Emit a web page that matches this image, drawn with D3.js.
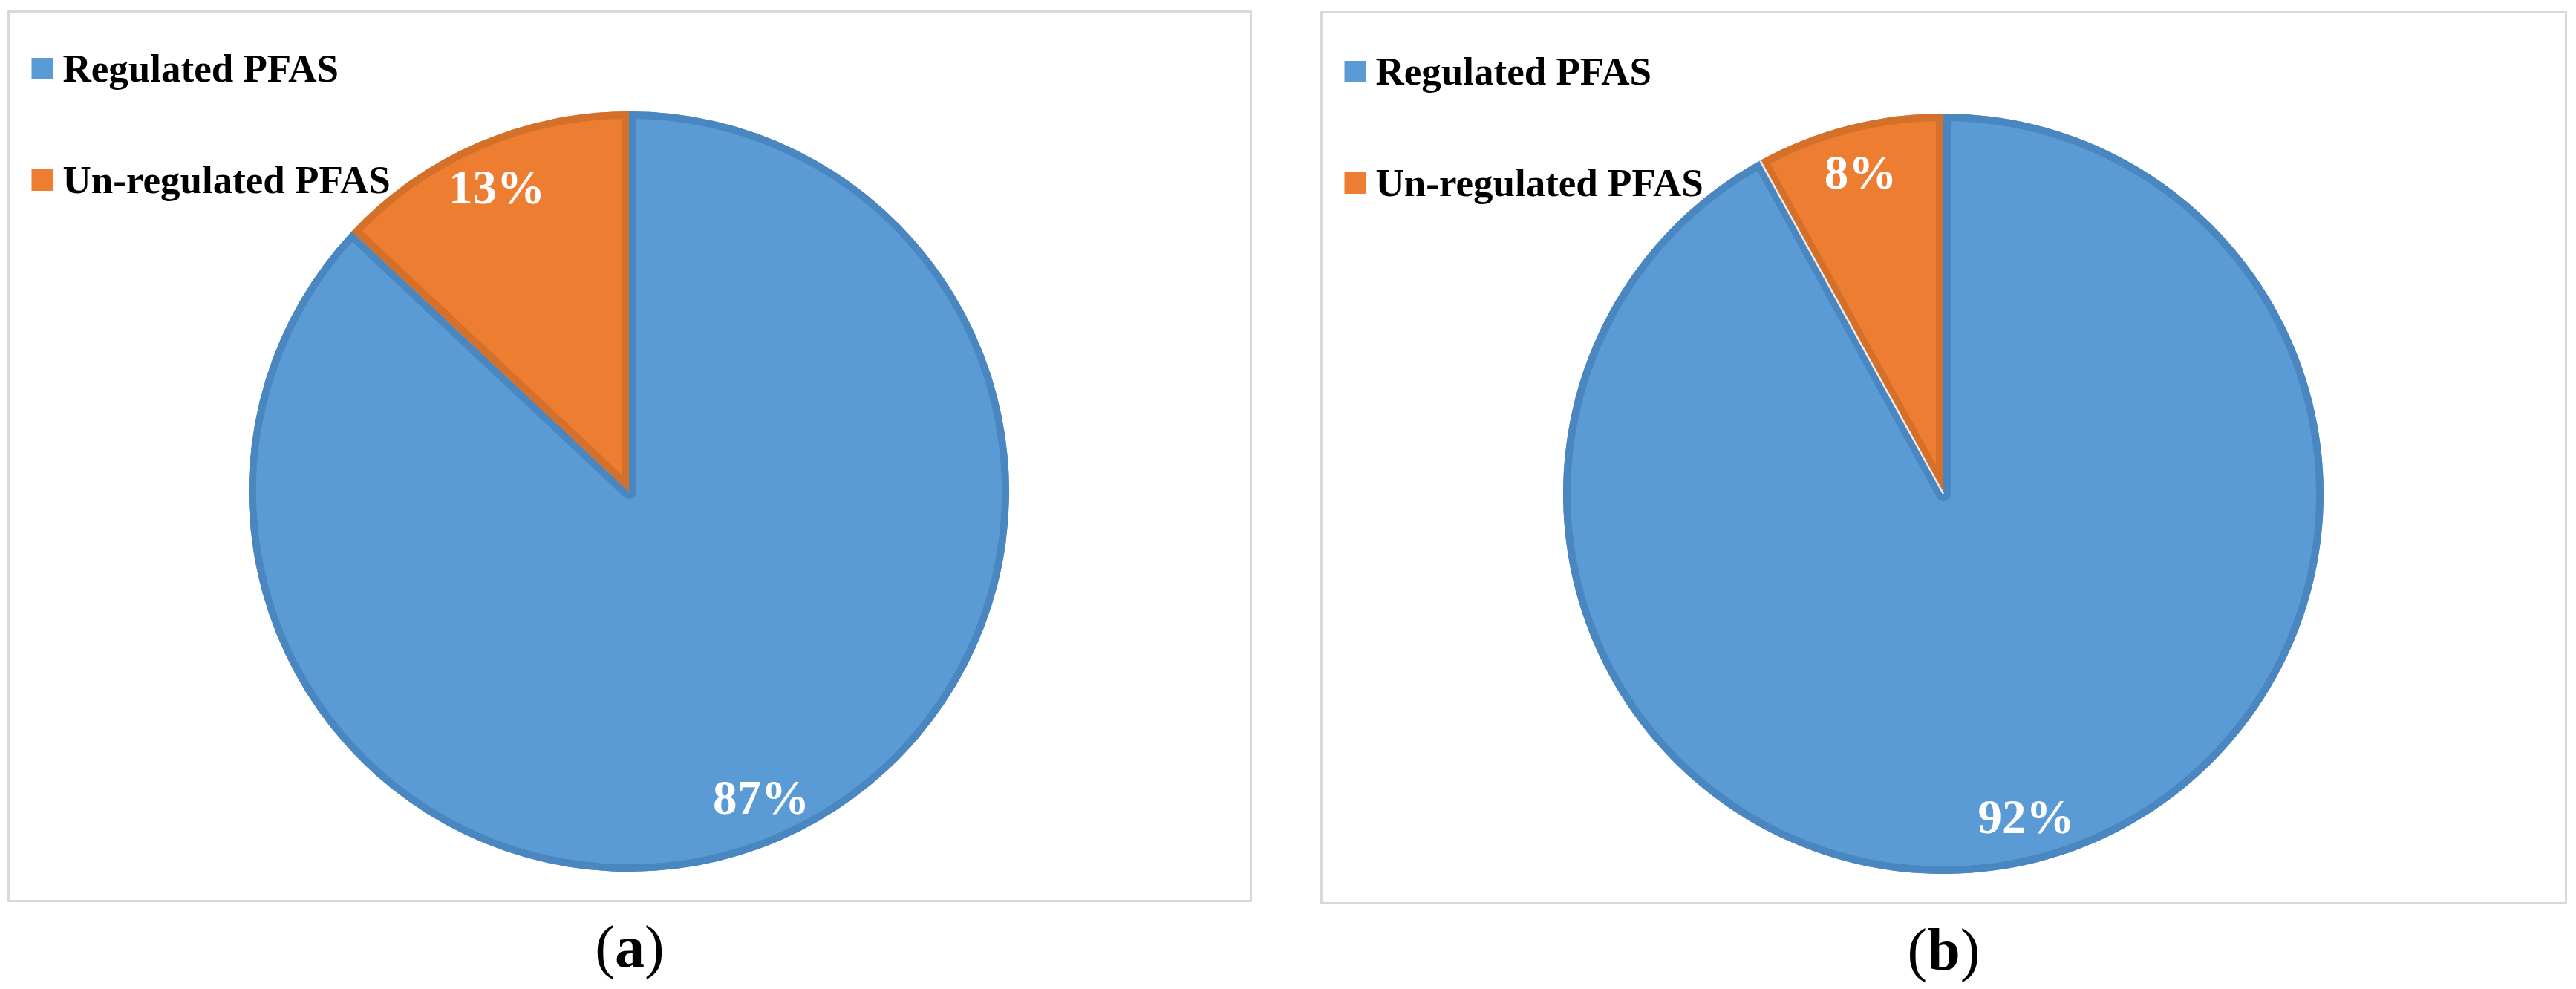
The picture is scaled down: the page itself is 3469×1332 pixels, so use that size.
<!DOCTYPE html>
<html>
<head>
<meta charset="utf-8">
<script src="https://cdn.jsdelivr.net/npm/d3@7"></script>
<style>
  body { margin: 0; background: #ffffff; }
  svg { display: block; }
  text { font-family: "Liberation Serif", "Times New Roman", serif; }
</style>
</head>
<body>
<svg id="d3_canvas" width="3469" height="1332"></svg>
<script>
// Categories and share (%) of each panel
const categories = ["Regulated PFAS", "Un-regulated PFAS"];
const panelNames = ["a", "b"];
const sharesA = [87, 13];
const sharesB = [92, 8];

// Office colors: fill and the darker edge band
const fillColors = ["#5b9bd5", "#ed7d31"];
const edgeColors = ["#4a86bf", "#d5702b"];

// Layout of each panel (frame box, pie center, small offset of panel b)
const panels = [
    { name: panelNames[0], values: sharesA, frame: [11.5, 15.5, 1673, 1198], cx: 847, cy: 662, dy: 0, gap: false },
    { name: panelNames[1], values: sharesB, frame: [1779.5, 16.5, 1676, 1200], cx: 2617, cy: 665, dy: 4, gap: true }
];

const radius = 512;
const svg = d3.select("#d3_canvas");

const pie = d3.pie().sort(null).value(d => d);
const arc = d3.arc().innerRadius(0).outerRadius(radius);
const labelArc = d3.arc().innerRadius(radius * 0.875).outerRadius(radius * 0.875);

function draw_panel(p, pi) {
    const [fx, fy, fw, fh] = p.frame;

    // Frame of the chart area
    svg.append("rect")
        .attr("x", fx).attr("y", fy)
        .attr("width", fw).attr("height", fh)
        .attr("fill", "none")
        .attr("stroke", "#d9d9d9")
        .attr("stroke-width", 3);

    // Legend
    const legend = svg.append("g")
        .attr("transform", `translate(${fx + 31},${78 + p.dy})`);
    categories.forEach((c, i) => {
        const row = legend.append("g").attr("transform", `translate(0,${i * 150})`);
        row.append("rect")
            .attr("x", 0).attr("y", 0)
            .attr("width", 29).attr("height", 29)
            .attr("fill", fillColors[i]);
        row.append("text")
            .attr("x", 42).attr("y", 32)
            .attr("font-size", 53)
            .attr("font-weight", "bold")
            .attr("fill", "#000")
            .text(c);
    });

    // Pie slices
    const g = svg.append("g").attr("transform", `translate(${p.cx},${p.cy})`);
    const arcs = pie(p.values);

    arcs.forEach((d, i) => {
        const id = `clip-${pi}-${i}`;
        g.append("clipPath").attr("id", id)
            .append("path").attr("d", arc(d));
        g.append("path")
            .attr("d", arc(d))
            .attr("fill", fillColors[i]);
        // darker band along the inside of each slice edge
        g.append("path")
            .attr("d", arc(d))
            .attr("fill", "none")
            .attr("stroke", edgeColors[i])
            .attr("stroke-width", 20)
            .attr("stroke-linejoin", "round")
            .attr("clip-path", `url(#${id})`);
    });

    // thin white seam on the start edge of the small slice (panel b)
    if (p.gap) {
        const a = arcs[1].startAngle;
        g.append("line")
            .attr("x1", 0).attr("y1", 0)
            .attr("x2", radius * Math.sin(a))
            .attr("y2", -radius * Math.cos(a))
            .attr("stroke", "#ffffff")
            .attr("stroke-width", 2.5)
            .attr("stroke-opacity", 0.85);
    }

    // Percent labels
    g.selectAll("text.pct")
        .data(arcs)
        .join("text")
        .attr("class", "pct")
        .attr("transform", d => `translate(${labelArc.centroid(d)})`)
        .attr("text-anchor", "middle")
        .attr("dy", "0.35em")
        .attr("font-size", 65)
        .attr("font-weight", "bold")
        .attr("fill", "#ffffff")
        .text(d => d.data + "%");

    // Caption under the frame
    const cap = svg.append("text")
        .attr("x", fx + fw / 2)
        .attr("y", 1302 + p.dy)
        .attr("text-anchor", "middle")
        .attr("font-size", 80)
        .attr("fill", "#000");
    cap.append("tspan").text("(");
    cap.append("tspan").attr("font-weight", "bold").text(p.name);
    cap.append("tspan").text(")");
}

panels.forEach(draw_panel);
</script>
</body>
</html>
